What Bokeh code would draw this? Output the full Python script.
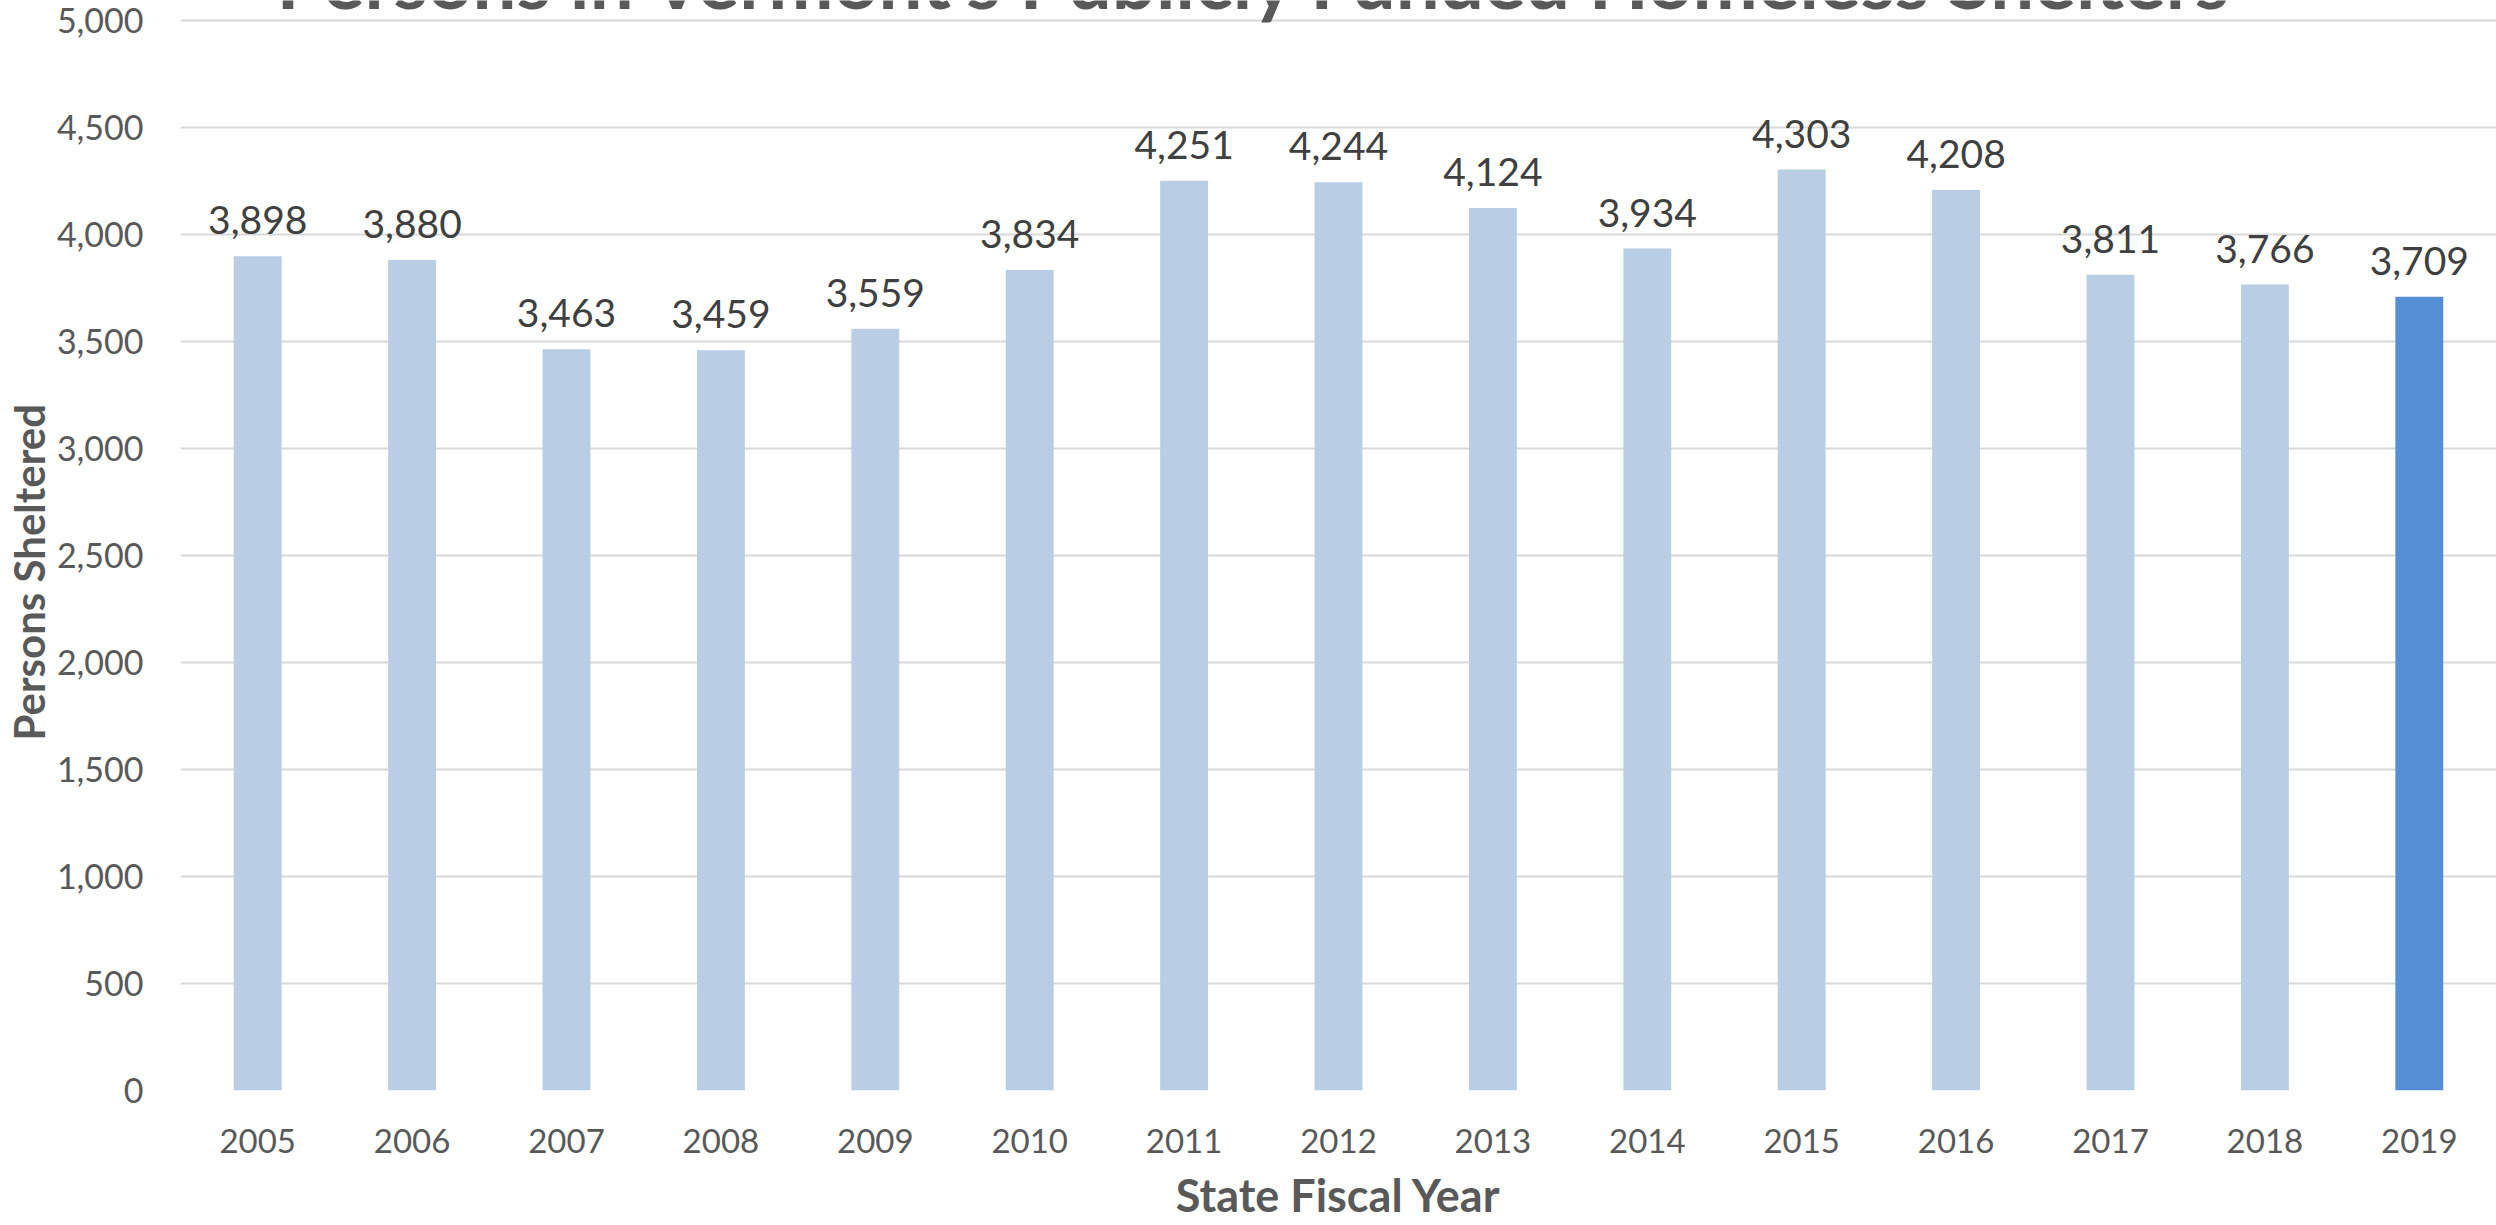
from bokeh.plotting import figure
from bokeh.models import (ColumnDataSource, Range1d, NumeralTickFormatter, Label,
                          FixedTicker, Title)
from bokeh.core.properties import value
from bokeh.embed import file_html
from bokeh.resources import INLINE

# ---- data ----
years = ["2005", "2006", "2007", "2008", "2009", "2010", "2011", "2012",
         "2013", "2014", "2015", "2016", "2017", "2018", "2019"]
persons = [3898, 3880, 3463, 3459, 3559, 3834, 4251, 4244,
           4124, 3934, 4303, 4208, 3811, 3766, 3709]
highlight_year = "2019"
y_ticks = [0, 500, 1000, 1500, 2000, 2500, 3000, 3500, 4000, 4500, 5000]

title_text = "Persons in Vermont\u2019s Publicly Funded Homeless Shelters"
x_title = "State Fiscal Year"
y_title = "Persons Sheltered"

BASE = "#B9CDE5"
HIGH = "#558ED5"
FONT = "Lato"
GREY = "#595959"

colors = [HIGH if y == highlight_year else BASE for y in years]
labels = [f"{v:,}" for v in persons]
src = ColumnDataSource(dict(year=years, value=persons, color=colors, label=labels))

p = figure(x_range=years, y_range=Range1d(0, 5093), width=2496, height=1225,
           output_backend="svg", toolbar_location=None,
           min_border_left=180, min_border_right=0, min_border_top=0,
           min_border_bottom=135)
p.outline_line_color = None
p.background_fill_color = "white"
p.border_fill_color = "white"

p.vbar(x="year", top="value", width=0.31, color="color", line_color=None, source=src)

p.text(x="year", y="value", text="label", source=src,
       text_align="center", text_baseline="alphabetic", y_offset=-36,
       text_font=value(FONT), text_font_size="39px", text_color="#404040")

# grid
p.xgrid.grid_line_color = None
p.ygrid.grid_line_color = "#D9D9D9"
p.ygrid.grid_line_width = 2

# y axis (ticks)
p.yaxis.ticker = FixedTicker(ticks=y_ticks)
p.yaxis.formatter = NumeralTickFormatter(format="0,0")
p.yaxis.axis_line_color = None
p.yaxis.major_tick_line_color = None
p.yaxis.minor_tick_line_color = None
p.yaxis.major_tick_out = 0
p.yaxis.major_label_text_font = FONT
p.yaxis.major_label_text_font_size = "34px"
p.yaxis.major_label_text_color = GREY
p.yaxis.major_label_standoff = 37

# y axis title
p.add_layout(Title(text=y_title, align="left", offset=350, standoff=0,
                   text_font=FONT, text_font_style="bold",
                   text_font_size="42px", text_color=GREY), "left")

# x axis
p.xaxis.axis_line_color = None
p.xaxis.major_tick_line_color = None
p.xaxis.minor_tick_line_color = None
p.xaxis.major_tick_out = 0
p.xaxis.major_label_text_font = FONT
p.xaxis.major_label_text_font_size = "33px"
p.xaxis.major_label_text_color = GREY
p.xaxis.major_label_standoff = 38
p.xaxis.axis_label = x_title
p.xaxis.axis_label_text_font = FONT
p.xaxis.axis_label_text_font_style = "bold"
p.xaxis.axis_label_text_font_size = "45px"
p.xaxis.axis_label_text_color = GREY
p.xaxis.axis_label_standoff = 12

# chart title (its top is cut off by the page edge, as in the reference)
p.add_layout(Label(x=6.96, y=5192, text=title_text, text_align="center",
                   text_baseline="alphabetic", text_font=FONT,
                   text_font_style="bold", text_font_size="78px",
                   text_color=GREY))

open("out.html", "w").write(file_html(p, INLINE))
